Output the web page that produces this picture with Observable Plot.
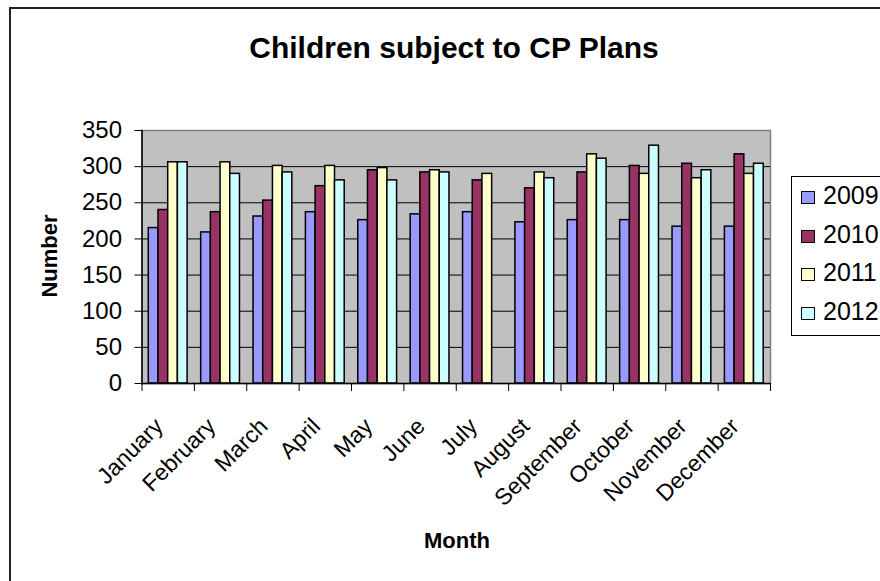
<!DOCTYPE html>
<html><head><meta charset="utf-8">
<script src="https://cdn.jsdelivr.net/npm/d3@7"></script>
<script src="https://cdn.jsdelivr.net/npm/@observablehq/plot@0.6"></script>
<style>
body{margin:0;background:#fff;}
#wrap{position:relative;width:880px;height:581px;overflow:hidden;font-family:"Liberation Sans",Arial,sans-serif;color:#000;}
#border{position:absolute;left:9px;top:7px;width:900px;height:600px;border:2px solid #222;box-sizing:border-box;}
#chart{position:absolute;left:0;top:0;}
#title{position:absolute;left:0;width:908px;top:31px;text-align:center;font-weight:bold;font-size:30px;line-height:34px;white-space:nowrap;}
#ylab{position:absolute;left:50px;top:256px;transform:translate(-50%,-50%) rotate(-90deg);font-weight:bold;font-size:22px;white-space:nowrap;}
#xlab{position:absolute;left:457px;top:541px;transform:translate(-50%,-50%);font-weight:bold;font-size:22px;white-space:nowrap;}
#legend{position:absolute;left:791px;top:176px;width:120px;height:160px;border:1px solid #000;box-sizing:border-box;background:#fff;}
.sw{position:absolute;left:9px;width:14px;height:13px;border:1.5px solid #000;box-sizing:border-box;}
.lt{position:absolute;left:31px;font-size:25px;line-height:25px;white-space:nowrap;}
</style>
</head><body>
<div id="wrap">
  <div id="border"></div>
  <div id="chart"></div>
  <div id="title">Children subject to CP Plans</div>
  <div id="ylab">Number</div>
  <div id="xlab">Month</div>
  <div id="legend"></div>
</div>
<script>
const months = ["January","February","March","April","May","June","July","August","September","October","November","December"];
const years = ["2009","2010","2011","2012"];
const v2009 = [215,209,231,237,226,234,237,223,226,226,217,217];
const v2010 = [240,237,253,273,295,292,281,270,292,301,304,317];
const v2011 = [306,306,301,301,298,295,290,292,317,290,284,290];
const v2012 = [306,290,292,281,281,292,null,284,311,329,295,304];
const yTicks = [0,50,100,150,200,250,300,350];
const colors = ["#9999FF","#993366","#FFFFCC","#CCFFFF"];

const series = [v2009, v2010, v2011, v2012];
const W = 880, H = 581, mL = 141.5, mR = 110, mT = 130, mB = 198;
const bw = (W - mL - mR) / months.length;
const barW = 9.7;
const off = (bw - 4 * barW) / 2;

const barMarks = series.map((vals, i) => {
  const data = months.map((m, j) => ({month: m, year: years[i], value: vals[j]})).filter(d => d.value != null);
  return Plot.barY(data, {
    x: "month", y: "value", fill: colors[i], stroke: "#000", strokeWidth: 1.5,
    insetLeft: off + i * barW, insetRight: bw - off - (i + 1) * barW
  });
});

const chart = Plot.plot({
  width: W, height: H,
  marginLeft: mL, marginRight: mR, marginTop: mT, marginBottom: mB,
  style: {fontFamily: "'Liberation Sans', Arial, sans-serif", fontSize: "23px", color: "#000", background: "transparent"},
  x: {type: "band", domain: months, padding: 0, round: false},
  y: {domain: [0, 350]},
  marks: [
    Plot.frame({fill: "#C0C0C0", stroke: "#808080", strokeWidth: 1.5}),
    Plot.gridY({ticks: yTicks.filter(t => t > 0 && t < 350), stroke: "#000", strokeOpacity: 1, strokeWidth: 1}),
    ...barMarks,
    Plot.ruleY([0], {stroke: "#000", strokeWidth: 1.5}),
    Plot.frame({anchor: "left", stroke: "#000", strokeWidth: 1.5}),
    Plot.axisY({ticks: yTicks, tickSize: 7, tickPadding: 13, fontSize: 24, label: null}),
    Plot.axisX({text: null, tickSize: 8, dx: -bw / 2, label: null}),
    Plot.axisX({ticks: [months[months.length - 1]], text: null, tickSize: 8, dx: bw / 2, label: null}),
    Plot.axisX({tickSize: 0, tickRotate: -45, tickPadding: 39, dx: -9, fontSize: 23, label: null})
  ]
});
document.getElementById("chart").appendChild(chart);

const leg = document.getElementById("legend");
years.forEach((y, i) => {
  const sw = document.createElement("span");
  sw.className = "sw";
  sw.style.background = colors[i];
  sw.style.top = (14 + i * 38.7) + "px";
  leg.appendChild(sw);
  const t = document.createElement("span");
  t.className = "lt";
  t.style.top = (6 + i * 38.7) + "px";
  t.textContent = y;
  leg.appendChild(t);
});
</script>
</body></html>
